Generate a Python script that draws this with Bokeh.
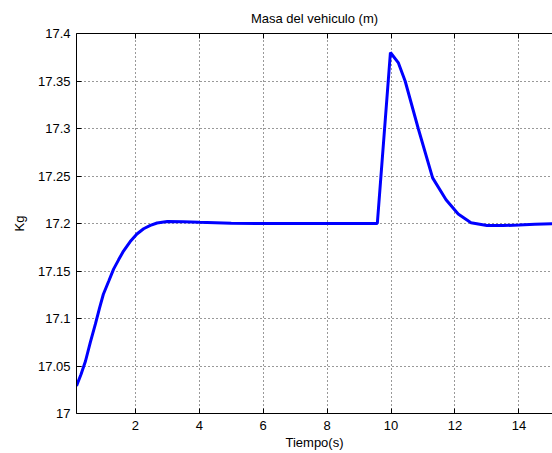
from bokeh.plotting import figure
from bokeh.models import Range1d, LinearAxis, FixedTicker, CustomJSTickFormatter
from bokeh.embed import file_html
from bokeh.resources import INLINE

# data
t = [0.16, 0.3, 0.44, 0.59, 0.75, 0.88, 1.0, 1.17, 1.32, 1.48, 1.63, 1.84, 2.05, 2.26, 2.47, 2.68,
     3.0, 3.5, 4.0, 5.0, 6.0, 7.0, 8.0, 9.0,
     9.57, 9.98, 10.23, 10.44, 10.85, 11.3, 11.72, 12.1, 12.5, 13.0, 13.5, 14.0, 14.5, 15.05]
masa = [17.029, 17.041, 17.055, 17.0747, 17.094, 17.111, 17.1255, 17.1395, 17.152, 17.162, 17.171,
        17.181, 17.189, 17.1945, 17.198, 17.2005,
        17.202, 17.2018, 17.2012, 17.2003, 17.2, 17.2, 17.2, 17.2,
        17.2, 17.38, 17.369, 17.35, 17.30, 17.248, 17.225, 17.21, 17.2008, 17.198, 17.1978,
        17.1985, 17.1993, 17.1998]

x_ticks = [2, 4, 6, 8, 10, 12, 14]
x_tick_labels = ["2", "4", "6", "8", "10", "12", "14"]
y_ticks = [17.0, 17.05, 17.1, 17.15, 17.2, 17.25, 17.3, 17.35, 17.4]
y_tick_labels = ["17", "17.05", "17.1", "17.15", "17.2", "17.25", "17.3", "17.35", "17.4"]

FONT = "Liberation Sans"
FS = "13px"

p = figure(width=552, height=453, output_backend="svg", toolbar_location=None,
           x_range=Range1d(0.16, 15.05), y_range=Range1d(17.0, 17.4),
           min_border_left=76, min_border_right=0, min_border_top=32, min_border_bottom=40,
           title="Masa del vehiculo (m)")
p.background_fill_color = "white"
p.border_fill_color = "white"
p.outline_line_color = None

p.title.align = "center"
p.title.text_font = FONT
p.title.text_font_size = FS
p.title.text_font_style = "normal"
p.title.text_color = "black"
p.title.standoff = 16

def style_axis(ax, ticks, labels):
    ax.ticker = FixedTicker(ticks=ticks)
    if labels is not None:
        ax.major_label_overrides = {tk: lb for tk, lb in zip(ticks, labels)}
    ax.major_tick_in = 5
    ax.major_tick_out = 0
    ax.minor_tick_in = 0
    ax.minor_tick_out = 0
    ax.axis_line_color = "black"
    ax.major_tick_line_color = "black"
    ax.major_label_text_font = FONT
    ax.major_label_text_font_size = FS
    ax.major_label_text_color = "black"
    ax.axis_label_text_font = FONT
    ax.axis_label_text_font_size = FS
    ax.axis_label_text_font_style = "normal"
    ax.axis_label_text_color = "black"

style_axis(p.xaxis[0], x_ticks, x_tick_labels)
p.xaxis.axis_label = "Tiempo(s)"
p.xaxis.major_label_standoff = 7
p.xaxis.axis_label_standoff = 2

style_axis(p.yaxis[0], y_ticks, y_tick_labels)
p.yaxis.axis_label = "Kg"
p.yaxis.major_label_standoff = 6
p.yaxis.axis_label_standoff = 8

top = LinearAxis(formatter=CustomJSTickFormatter(code="return '';"))
style_axis(top, x_ticks, None)
top.major_label_standoff = 0
p.add_layout(top, "above")

for g in (p.xgrid[0], p.ygrid[0]):
    g.grid_line_color = "black"
    g.grid_line_alpha = 0.8
    g.grid_line_dash = "1 3"
    g.grid_line_width = 1
p.xgrid[0].ticker = FixedTicker(ticks=x_ticks)
p.ygrid[0].ticker = FixedTicker(ticks=y_ticks[1:-1])

p.line(t, masa, line_color="#0000ff", line_width=3)

open("out.html", "w").write(file_html(p, INLINE))
